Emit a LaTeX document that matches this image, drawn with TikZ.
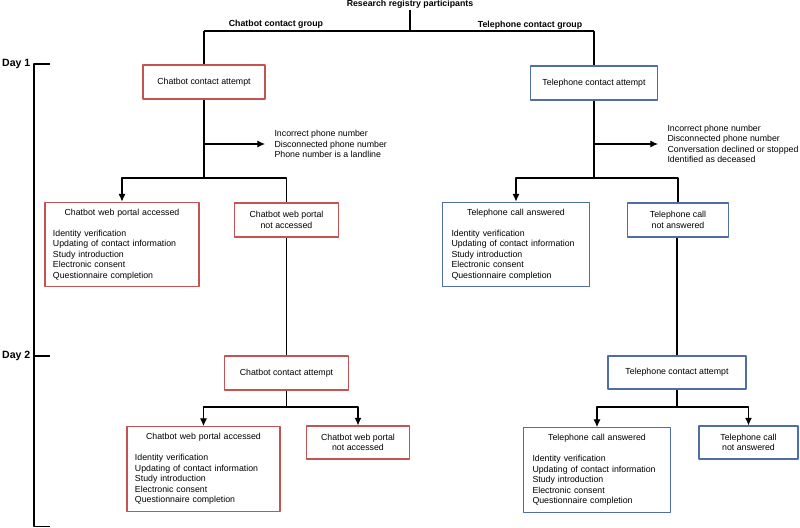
\documentclass[tikz,border=0pt]{standalone}
\usepackage{fontspec}
\setmainfont{Liberation Sans}
\usetikzlibrary{arrows,arrows.meta,positioning,calc}
\definecolor{chatred}{RGB}{196,84,84}
\definecolor{telblue}{RGB}{79,110,168}

\begin{document}
\begin{tikzpicture}[x=0.03cm,y=-0.03cm,>={Latex[length=6.5pt,width=6pt]},line join=bevel,line width=0.9pt,
  font=\fontsize{7.5}{8.9}\selectfont,
  chatbox/.style={draw=chatred,line width=1pt,inner sep=0pt,align=center,minimum height=1.02cm},
  telbox/.style={draw=telblue,line width=1pt,inner sep=0pt,align=center,minimum height=1.02cm},
  listbox/.style={align=left,minimum height=2.54cm},
  grp/.style={font=\fontsize{7.5}{8.9}\selectfont\bfseries},
  daylbl/.style={font=\fontsize{9}{10}\selectfont\bfseries,anchor=east,inner sep=1pt},
  excl/.style={align=left,anchor=west,inner xsep=0.27cm,inner ysep=0pt}]
\useasboundingbox (0,0) rectangle (800,528);

\node [grp,inner sep=1pt] at (410,4) (reg) {Research registry participants};
\node [grp] at (276,24) (cgrp) {Chatbot contact group};
\node [grp] at (530,25) (tgrp) {Telephone contact group};
\coordinate (rj) at (410,31);
\coordinate (cj) at (204,31);
\coordinate (tj) at (594,31);
\draw (reg) -- (rj);
\draw (cj) -- (tj);

% day scale
\node [daylbl] at (32,64) (d1) {Day 1};
\node [daylbl] at (32,356) (d2) {Day 2};
\draw (50,64) -- (34,64) -- (34,526.5) -- (50,526.5);
\draw (34,356) -- (50,356);

% chatbot group
\node [chatbox,minimum width=3.66cm] at (204,82) (cca) {Chatbot contact attempt};
\node [excl] at (265,144) (cexc) {Incorrect phone number\\Disconnected phone number\\Phone number is a landline};
\node [chatbox,listbox,minimum width=4.62cm,text width=4.14cm] at (122,244.5) (cacc) {\makebox[\hsize]{Chatbot web portal accessed}\\[8.9pt]Identity verification\\Updating of contact information\\Study introduction\\Electronic consent\\Questionnaire completion};
\node [chatbox,minimum width=3.12cm] at (286.5,220) (cnot) {Chatbot web portal\\not accessed};
\node [chatbox,minimum width=3.72cm] at (286.5,373) (cca2) {Chatbot contact attempt};
\node [chatbox,listbox,minimum width=4.59cm,text width=4.11cm] at (203.5,469) (cacc2) {\makebox[\hsize]{Chatbot web portal accessed}\\[8.9pt]Identity verification\\Updating of contact information\\Study introduction\\Electronic consent\\Questionnaire completion};
\node [chatbox,minimum width=3.09cm,minimum height=0.99cm] at (358,442.5) (cnot2) {Chatbot web portal\\not accessed};
\coordinate (cx) at (204,144);
\coordinate (cs) at (204,178);
\coordinate (cs2) at (286.5,407);
\draw (cj) -- (cca);
\draw (cca) -- (cs);
\draw [->] (cx) -- (cexc.west);
\draw [->] (cs) -| (cacc);
\draw (cs) -| (cnot);
\draw (cnot) -- (cca2);
\draw (cca2) -- (cs2);
\draw [->] (cs2) -| (cacc2);
\draw [->] (cs2) -| (cnot2);

% telephone group
\node [telbox,minimum width=3.81cm] at (594,83) (tca) {Telephone contact attempt};
\node [excl] at (658,144) (texc) {Incorrect phone number\\Disconnected phone number\\Conversation declined or stopped\\Identified as deceased};
\node [telbox,listbox,minimum width=4.41cm,text width=3.87cm] at (516,244.5) (tacc) {\makebox[\hsize]{Telephone call answered}\\[8.9pt]Identity verification\\Updating of contact information\\Study introduction\\Electronic consent\\Questionnaire completion};
\node [telbox,minimum width=3.03cm] at (678,220) (tnot) {Telephone call\\not answered};
\node [telbox,minimum width=4.14cm,minimum height=0.99cm] at (677,372.5) (tca2) {Telephone contact attempt};
\node [telbox,listbox,minimum width=4.41cm,text width=3.87cm] at (597,470) (tacc2) {\makebox[\hsize]{Telephone call answered}\\[8.9pt]Identity verification\\Updating of contact information\\Study introduction\\Electronic consent\\Questionnaire completion};
\node [telbox,minimum width=2.97cm,minimum height=0.99cm] at (748.5,442.5) (tnot2) {Telephone call\\not answered};
\coordinate (tx) at (594,144);
\coordinate (ts) at (594,178);
\coordinate (ts2) at (677,407);
\draw (tj) -- (tca);
\draw (tca) -- (ts);
\draw [->] (tx) -- (texc.west);
\draw [->] (ts) -| (tacc);
\draw (ts) -| (tnot);
\draw (tnot.south -| tca2) -- (tca2);
\draw (tca2) -- (ts2);
\draw [->] (ts2) -| (tacc2);
\draw [->] (ts2) -| (tnot2);
\end{tikzpicture}
\end{document}
